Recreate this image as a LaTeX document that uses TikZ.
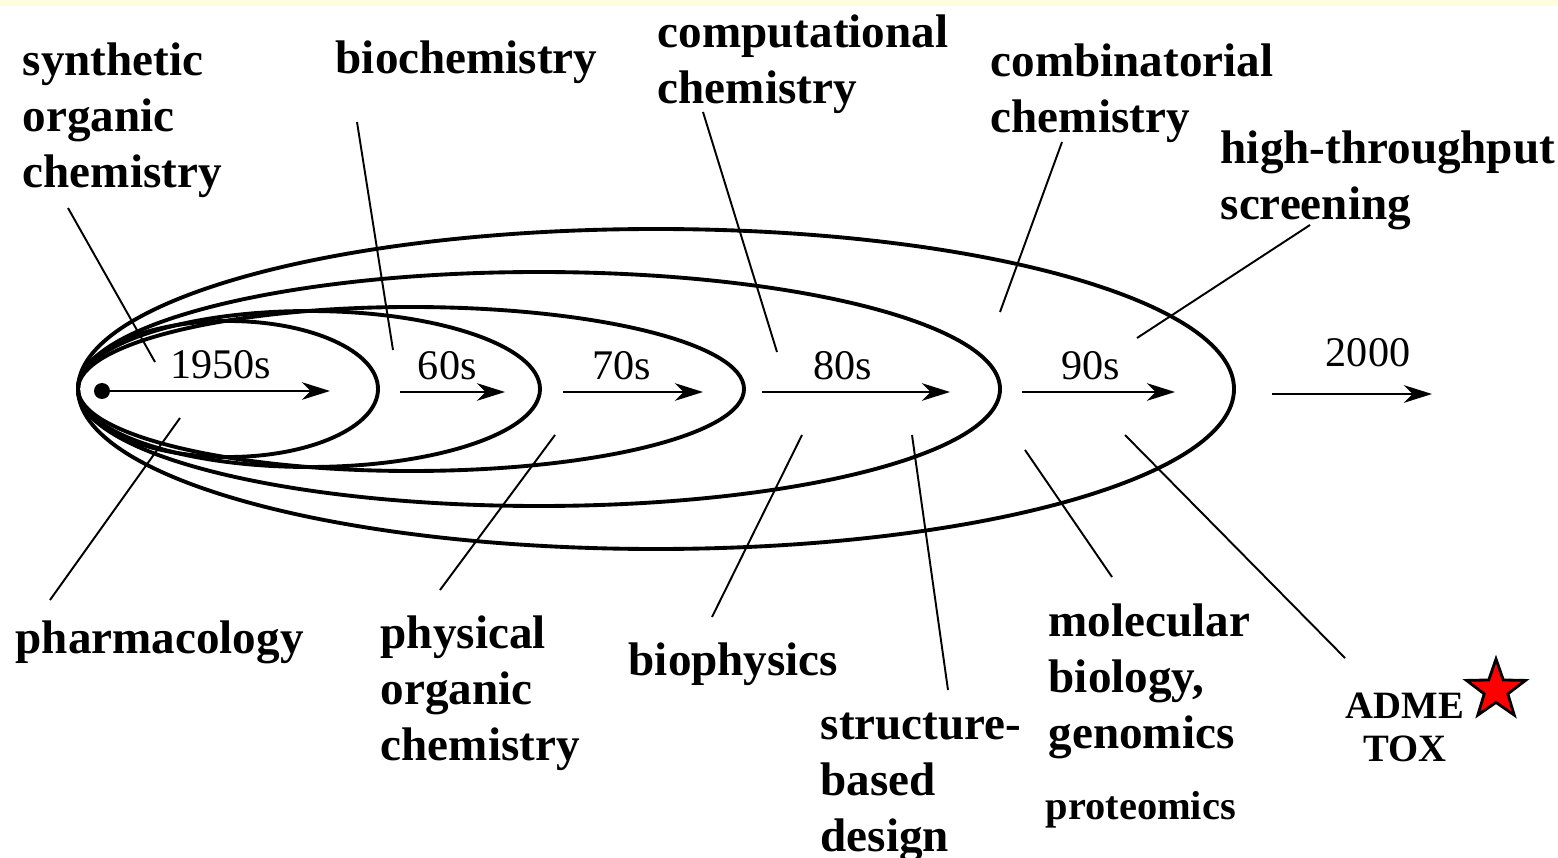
\documentclass[tikz,border=0pt]{standalone}
\usepackage{fontspec}
\setmainfont{Liberation Serif}
\usetikzlibrary{arrows.meta, shapes.geometric}
\definecolor{topband}{HTML}{FFFDE0}
\definecolor{starred}{HTML}{FF0000}

\begin{document}
\begin{tikzpicture}[x=0.01cm, y=-0.01cm,
		era/.style={line width=1.1pt},
		decade/.style={line width=0.7pt, -{Stealth[length=8pt, width=5pt, inset=2.5pt]}},
		lead/.style={line width=0.55pt},
		topic/.style={font=\fontsize{13.4}{15.9}\selectfont\bfseries, align=left, inner sep=0pt, anchor=north west},
		small/.style={font=\fontsize{11}{12.3}\selectfont\bfseries, align=center, inner sep=0pt},
		yearlbl/.style={font=\fontsize{12}{14}\selectfont, inner sep=0pt, above=3pt}]
	\useasboundingbox (0,0) rectangle (1558,858);
	\fill[white] (0,0) rectangle (1558,858);
	\fill[topband] (0,0) rectangle (1558,6);
	
	% Nested eras, all touching at the left tip
	\draw[era] (228,389) ellipse (150 and 68);
	\draw[era] (309,389) ellipse (231 and 78);
	\draw[era] (411,389) ellipse (333 and 82);
	\draw[era] (539,389) ellipse (461 and 117);
	\draw[era] (656,389) ellipse (578 and 160);
	
	% Time arrows
	\coordinate (a50) at (102,391);  \coordinate (b50) at (330,391);
	\coordinate (a60) at (400,392);  \coordinate (b60) at (505,392);
	\coordinate (a70) at (563,392);  \coordinate (b70) at (703,392);
	\coordinate (a80) at (762,392);  \coordinate (b80) at (950,392);
	\coordinate (a90) at (1022,392); \coordinate (b90) at (1175,392);
	\coordinate (a00) at (1272,394); \coordinate (b00) at (1432,394);
	\fill (a50) circle (8);
	\draw[decade] (a50) -- node[yearlbl, pos=0.52] (y50) {1950s} (b50);
	\draw[decade] (a60) -- node[yearlbl, pos=0.45] (y60) {60s} (b60);
	\draw[decade] (a70) -- node[yearlbl, pos=0.42] (y70) {70s} (b70);
	\draw[decade] (a80) -- node[yearlbl, pos=0.43] (y80) {80s} (b80);
	\draw[decade] (a90) -- node[yearlbl, pos=0.45] (y90) {90s} (b90);
	\draw[decade] (a00) -- node[yearlbl, pos=0.6, above=4.3pt] (y00) {2000} (b00);
	
	% Disciplines above
	\node[topic] (synth) at (22,42) {synthetic\\organic\\chemistry};
	\node[topic] (bioch) at (335,40) {biochemistry};
	\node[topic] (comput) at (657,14) {computational\\chemistry};
	\node[topic] (combi) at (990,43) {combinatorial\\chemistry};
	\node[topic] (hts) at (1220,130) {high-throughput\\screening};
	
	% Disciplines below
	\node[topic] (pharm) at (15,620) {pharmacology};
	\node[topic] (phys) at (380,615) {physical\\organic\\chemistry};
	\node[topic] (bioph) at (628,642) {biophysics};
	\node[topic] (sbd) at (820,712) {structure-\\based\\design};
	\node[topic] (molbio) at (1048,603) {molecular\\biology,\\genomics};
	\node[small, anchor=north west, font=\fontsize{11.5}{12.3}\selectfont\bfseries] (prot) at (1045,791) {proteomics};
	\node[small, anchor=north] (adme) at (1405,692) {ADME\\TOX};
	\node[star, star points=5, star point ratio=2.5, draw, line width=0.8pt, fill=starred,
		minimum size=0.62cm, inner sep=0pt] (mark) at (1496,690) {};
	
	% Leader lines
	\coordinate (synthA) at (68,208);   \coordinate (synthB) at (155,362);
	\coordinate (biochA) at (357,122);  \coordinate (biochB) at (393,350);
	\coordinate (compA) at (703,112);   \coordinate (compB) at (777,352);
	\coordinate (combiA) at (1062,142); \coordinate (combiB) at (1000,312);
	\coordinate (htsA) at (1310,225);   \coordinate (htsB) at (1137,338);
	\coordinate (pharmA) at (50,600);   \coordinate (pharmB) at (180,418);
	\coordinate (physA) at (440,590);   \coordinate (physB) at (555,435);
	\coordinate (biophA) at (712,617);  \coordinate (biophB) at (802,435);
	\coordinate (sbdA) at (948,690);    \coordinate (sbdB) at (912,435);
	\coordinate (molA) at (1112,577);   \coordinate (molB) at (1025,450);
	\coordinate (admeA) at (1345,658);  \coordinate (admeB) at (1125,435);
	\foreach \p in {synth, bioch, comp, combi, hts, pharm, phys, bioph, sbd, mol, adme}
		\draw[lead] (\p A) -- (\p B);
\end{tikzpicture}
\end{document}
